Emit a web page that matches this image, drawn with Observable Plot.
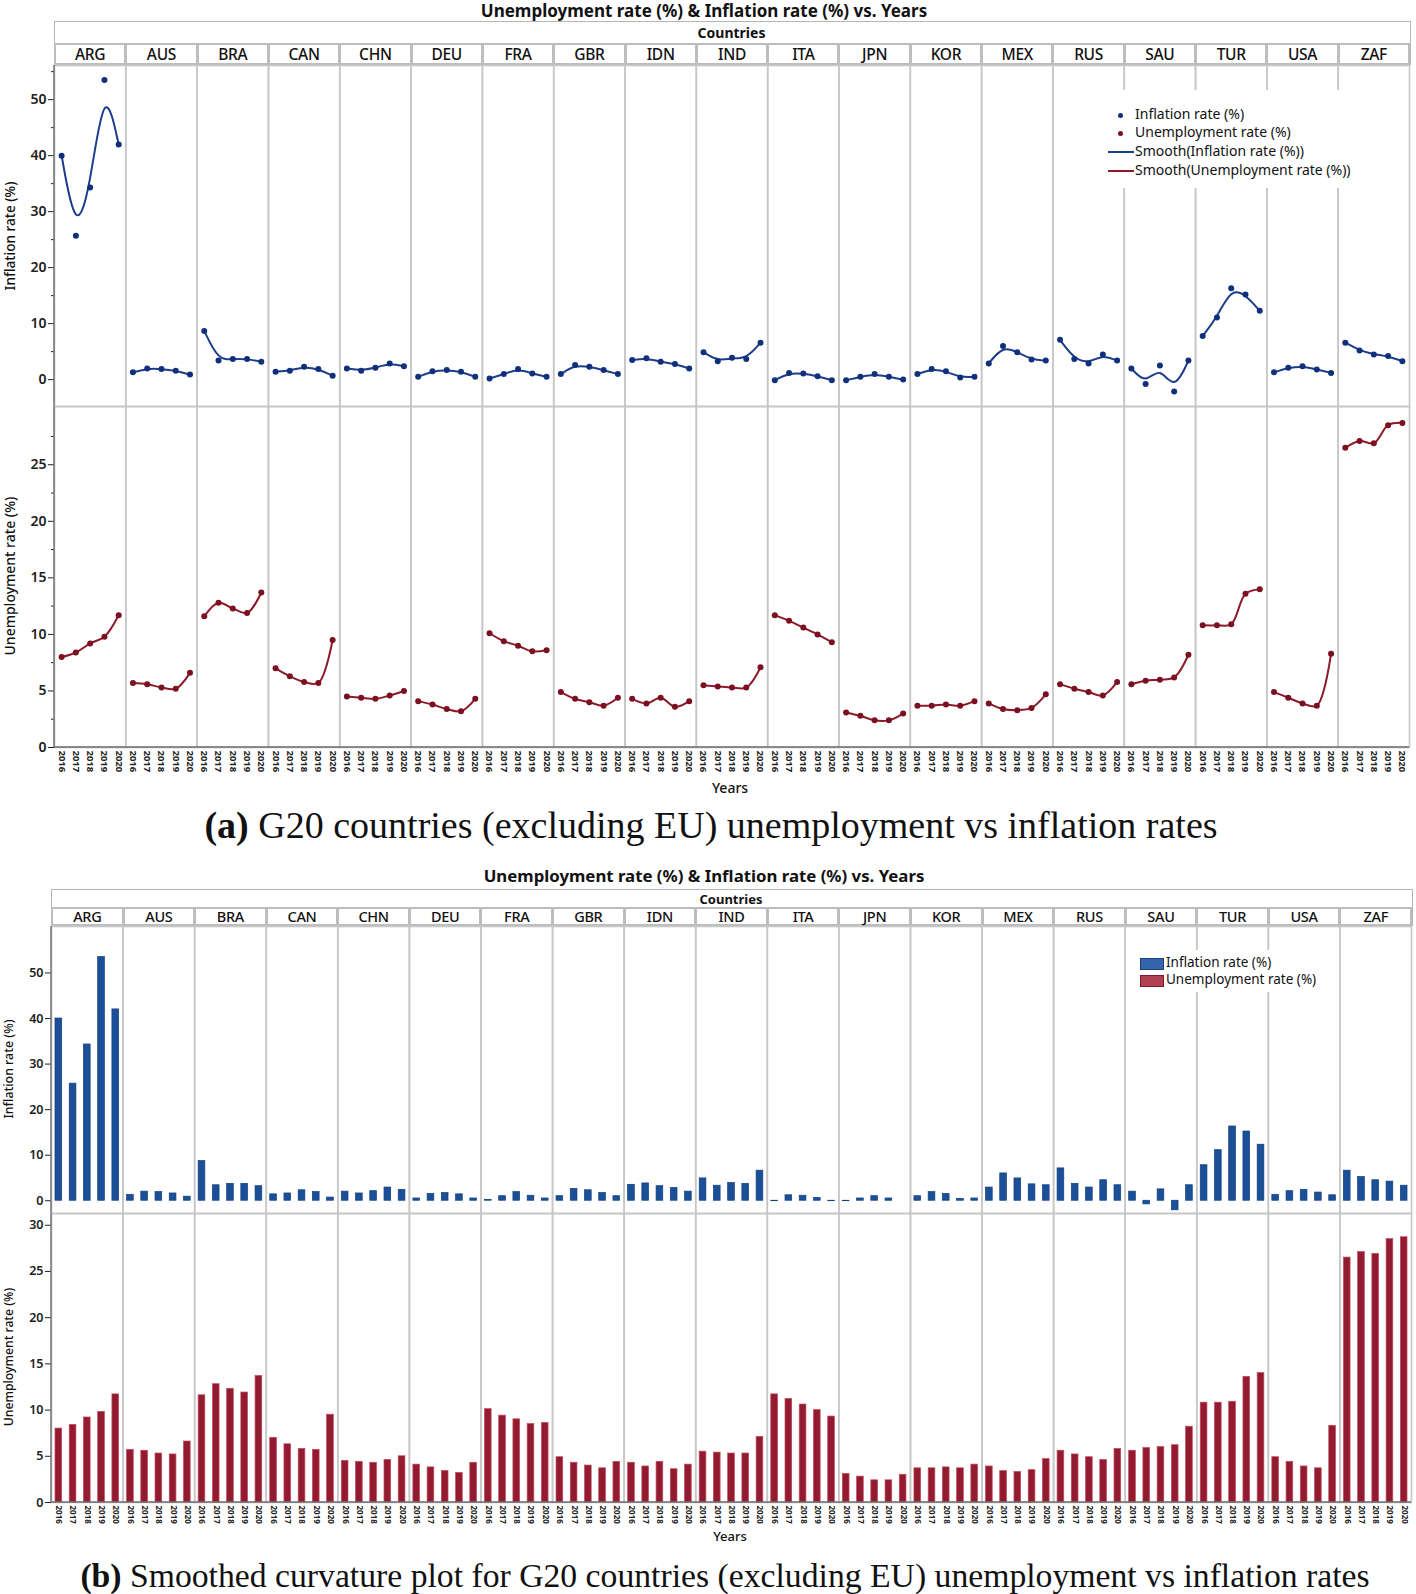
<!DOCTYPE html>
<html><head><meta charset="utf-8">
<script src="https://cdn.jsdelivr.net/npm/d3@7"></script>
<script src="https://cdn.jsdelivr.net/npm/@observablehq/plot@0.6"></script>
<style>
body{margin:0;background:#fff;}
#root{position:relative;width:1416px;height:1594px;overflow:hidden;font-family:"Noto Sans",sans-serif;color:#111;background:#fff;}
.abs{position:absolute;}
.ttl{position:absolute;font-weight:700;white-space:nowrap;transform:translateX(-50%);line-height:1.1;}
.cap{position:absolute;font-family:"Liberation Serif","Times New Roman",serif;white-space:nowrap;transform:translateX(-50%);line-height:1;color:#111;}
.ylab{position:absolute;white-space:nowrap;transform:translate(-50%,-50%) rotate(-90deg);line-height:1.1;font-weight:500;}
.hdr{position:absolute;box-sizing:border-box;border:1.5px solid #b5b5b5;background:#fff;}
.cell{position:absolute;box-sizing:border-box;border:2px solid #bdbdbd;background:#fff;text-align:center;letter-spacing:-0.3px;}
.leg{position:absolute;background:#fff;}
.legrow{position:absolute;white-space:nowrap;line-height:1;}
</style></head><body><div id="root"></div><script>
// ---------- data ----------
const countries = ["ARG","AUS","BRA","CAN","CHN","DEU","FRA","GBR","IDN","IND","ITA","JPN","KOR","MEX","RUS","SAU","TUR","USA","ZAF"];
const years = ["2016","2017","2018","2019","2020"];
// inflation rate (%) per country (same order as countries), 2016..2020
const inflationRate = [
  [40.0, 25.7, 34.3, 53.5, 42.0], // ARG
  [1.3, 2.0, 1.9, 1.6, 0.9],      // AUS
  [8.7, 3.4, 3.7, 3.7, 3.2],      // BRA
  [1.4, 1.6, 2.3, 1.9, 0.7],      // CAN
  [2.0, 1.6, 2.1, 2.9, 2.4],      // CHN
  [0.5, 1.5, 1.7, 1.4, 0.5],      // DEU
  [0.2, 1.0, 1.9, 1.1, 0.5],      // FRA
  [1.0, 2.6, 2.3, 1.7, 1.0],      // GBR
  [3.5, 3.8, 3.2, 2.8, 2.0],      // IDN
  [4.9, 3.3, 3.9, 3.7, 6.6],      // IND
  [-0.1, 1.2, 1.1, 0.6, -0.1],    // ITA
  [-0.1, 0.5, 1.0, 0.5, 0.0],     // JPN
  [1.0, 1.9, 1.5, 0.4, 0.5],      // KOR
  [2.9, 6.0, 4.9, 3.6, 3.4],      // MEX
  [7.1, 3.7, 2.9, 4.5, 3.4],      // RUS
  [2.0, -0.8, 2.5, -2.1, 3.4],    // SAU
  [7.8, 11.1, 16.3, 15.2, 12.3],  // TUR
  [1.3, 2.1, 2.4, 1.8, 1.2],      // USA
  [6.6, 5.2, 4.5, 4.2, 3.3]       // ZAF
];
// unemployment rate (%) per country, 2016..2020
const unemploymentRate = [
  [8.0, 8.4, 9.2, 9.8, 11.7],     // ARG
  [5.7, 5.6, 5.3, 5.2, 6.6],      // AUS
  [11.6, 12.8, 12.3, 11.9, 13.7], // BRA
  [7.0, 6.3, 5.8, 5.7, 9.5],      // CAN
  [4.5, 4.4, 4.3, 4.6, 5.0],      // CHN
  [4.1, 3.8, 3.4, 3.2, 4.3],      // DEU
  [10.1, 9.4, 9.0, 8.5, 8.6],     // FRA
  [4.9, 4.3, 4.0, 3.7, 4.4],      // GBR
  [4.3, 3.9, 4.4, 3.6, 4.1],      // IDN
  [5.5, 5.4, 5.3, 5.3, 7.1],      // IND
  [11.7, 11.2, 10.6, 10.0, 9.3],  // ITA
  [3.1, 2.8, 2.4, 2.4, 3.0],      // JPN
  [3.7, 3.7, 3.8, 3.7, 4.1],      // KOR
  [3.9, 3.4, 3.3, 3.5, 4.7],      // MEX
  [5.6, 5.2, 4.9, 4.6, 5.8],      // RUS
  [5.6, 5.9, 6.0, 6.2, 8.2],      // SAU
  [10.8, 10.8, 10.9, 13.6, 14.0], // TUR
  [4.9, 4.4, 3.9, 3.7, 8.3],      // USA
  [26.5, 27.1, 26.9, 28.5, 28.7]  // ZAF
];
const titleText = "Unemployment rate (%) & Inflation rate (%) vs. Years";
const captionA = ["(a)", " G20 countries (excluding EU) unemployment vs inflation rates"];
const captionB = ["(b)", " Smoothed curvature plot for G20 countries (excluding EU) unemployment vs inflation rates"];
const infTicks = [0, 10, 20, 30, 40, 50];
const infMinor = [5, 15, 25, 35, 45, 55];
const unTicks = [0, 5, 10, 15, 20, 25];
const unMinor = [2.5, 7.5, 12.5, 17.5, 22.5, 27.5];
const unTicksB = [0, 5, 10, 15, 20, 25, 30];

// ---------- helpers ----------
const toRows = (arr) => countries.flatMap((c, i) => years.map((y, j) => ({country: c, year: y, value: arr[i][j]})));
const infData = toRows(inflationRate);
const unData = toRows(unemploymentRate);

const root = document.getElementById("root");
const W = 1416;
const C = {infDot:"#10307c", infLine:"#1c3d8c", unDot:"#7a1020", unLine:"#8c1a2b",
           infBar:"#1b4f97", infBarS:"#123f80", unBar:"#931b31", unBarS:"#c24a5a"};

function place(el, top, left) { el.style.position = "absolute"; el.style.top = top + "px"; el.style.left = left + "px"; root.appendChild(el); return el; }
function div(cls, css, html) { const d = document.createElement("div"); d.className = cls; Object.assign(d.style, css); if (html != null) d.innerHTML = html; root.appendChild(d); return d; }

function row(o) {
  const marks = [
    Plot.frame({stroke: "#c7c7c7", strokeWidth: 1.6}),
    Plot.axisY({ticks: o.yTicks, tickSize: 6, tickPadding: 2, fontSize: o.yFont, fontWeight: 600, label: null}),
  ];
  if (o.yMinor) marks.push(Plot.axisY({ticks: o.yMinor, tickSize: 3, tickFormat: () => "", label: null}));
  if (o.kind === "line") {
    marks.push(Plot.line(o.data, {fx: "country", x: "year", y: "value", curve: o.curve, stroke: o.line, strokeWidth: 2}));
    marks.push(Plot.dot(o.data, {fx: "country", x: "year", y: "value", r: 3, fill: o.dot}));
  } else {
    marks.push(Plot.barY(o.data, {fx: "country", x: "year", y: "value", fill: o.fill, stroke: o.stroke, strokeWidth: 0.7}));
  }
  if (o.showX) marks.push(Plot.axisX({tickRotate: 90, tickSize: 0, tickPadding: 3, fontSize: o.xFont, fontWeight: 700, label: null}));
  const xScale = o.kind === "line"
    ? {type: "point", domain: years, padding: 0.5, round: false, axis: null}
    : {type: "band", domain: years, paddingInner: 0.53, paddingOuter: 0.28, round: false, axis: null};
  const svg = Plot.plot({
    width: W, height: o.height,
    marginLeft: o.ml, marginRight: o.mr, marginTop: o.mt, marginBottom: o.mb,
    style: {background: "transparent", overflow: "visible", fontFamily: "Noto Sans", color: "#222"},
    fx: {domain: countries, padding: 0, round: false, axis: null, label: null},
    x: xScale,
    y: {domain: o.yDomain, axis: null},
    marks
  });
  const s = d3.select(svg);
  const yb = o.height - o.mb;
  s.append("line").attr("x1", o.ml).attr("x2", o.ml).attr("y1", o.mt).attr("y2", yb).attr("stroke", "#6e6e6e").attr("stroke-width", 1.4);
  if (o.showX) s.append("line").attr("x1", o.ml).attr("x2", W - o.mr).attr("y1", yb).attr("y2", yb).attr("stroke", "#6e6e6e").attr("stroke-width", 1.4);
  place(svg, o.top, 0);
  return svg;
}

function header(top, left, right, h1, h2, f1, f2) {
  const w = right - left;
  div("hdr", {top: top + "px", left: left + "px", width: (w + 2) + "px", height: (h1 + h2) + "px"});
  div("ttl", {top: (top + (h1 - f1) / 2) + "px", left: (left + w / 2) + "px", fontSize: f1 + "px"}, "Countries");
  const cw = w / countries.length;
  countries.forEach((c, i) => {
    div("cell", {top: (top + h1) + "px", left: (left + i * cw) + "px", width: (cw + 1) + "px", height: h2 + "px",
      fontSize: f2 + "px", lineHeight: (h2 - 4) + "px", fontWeight: 500}, c);
  });
}

// ---------- panel (a) ----------
div("ttl", {top: "2px", left: "704px", fontSize: "17px"}, titleText);
header(21, 54, 1409, 22, 22, 14, 15.5);
row({top: 65, height: 341, mt: 0, mb: 0, ml: 54, mr: 7, yDomain: [-4.8, 56.1], yTicks: infTicks, yMinor: infMinor,
     yFont: 14, kind: "line", data: infData, curve: "basis", line: C.infLine, dot: C.infDot, showX: false});
row({top: 406, height: 373, mt: 0, mb: 32, ml: 54, mr: 7, yDomain: [0, 30.15], yTicks: unTicks, yMinor: unMinor,
     yFont: 14, kind: "line", data: unData, curve: "catmull-rom", line: C.unLine, dot: C.unDot, showX: true, xFont: 9.5});
div("ylab", {top: "236px", left: "10px", fontSize: "13.6px"}, "Inflation rate (%)");
div("ylab", {top: "576px", left: "10px", fontSize: "14px"}, "Unemployment rate (%)");
div("ttl", {top: "780px", left: "730px", fontSize: "14px", fontWeight: 500}, "Years");

// legend (a)
{
  div("leg", {top: "90px", left: "1106px", width: "256px", height: "98px"});
  const items = [
    {t: "Inflation rate (%)", k: "dot", c: C.infDot},
    {t: "Unemployment rate (%)", k: "dot", c: C.unDot},
    {t: "Smooth(Inflation rate (%))", k: "line", c: C.infLine},
    {t: "Smooth(Unemployment rate (%))", k: "line", c: C.unLine}
  ];
  const ys = [115, 133, 152, 171];
  items.forEach((it, i) => {
    const y = ys[i];
    if (it.k === "dot") div("abs", {top: (y - 2.5) + "px", left: "1118px", width: "5px", height: "5px", borderRadius: "50%", background: it.c});
    else div("abs", {top: (y - 1) + "px", left: "1108px", width: "26px", height: "2px", background: it.c});
    div("legrow", {top: (y - 8) + "px", left: "1135px", fontSize: "14px"}, it.t);
  });
}
{
  const cap = div("cap", {top: "806px", left: "711px", fontSize: "38px"});
  cap.innerHTML = "<b>" + captionA[0] + "</b>" + captionA[1];
}

// ---------- panel (b) ----------
div("ttl", {top: "867px", left: "704px", fontSize: "16.8px"}, titleText);
header(889, 51, 1411, 18, 19, 13, 14.5);
row({top: 926, height: 287, mt: 0, mb: 0, ml: 51, mr: 5, yDomain: [-2.8, 60.2], yTicks: infTicks, yMinor: null,
     yFont: 12.5, kind: "bar", data: infData, fill: C.infBar, stroke: C.infBarS, showX: false});
row({top: 1213, height: 315, mt: 0, mb: 26, ml: 51, mr: 5, yDomain: [0, 31.27], yTicks: unTicksB, yMinor: null,
     yFont: 12.5, kind: "bar", data: unData, fill: C.unBar, stroke: C.unBarS, showX: true, xFont: 8});
div("ylab", {top: "1069px", left: "9px", fontSize: "12.4px"}, "Inflation rate (%)");
div("ylab", {top: "1357px", left: "9px", fontSize: "12.2px"}, "Unemployment rate (%)");
div("ttl", {top: "1529px", left: "730px", fontSize: "13px", fontWeight: 500}, "Years");

// legend (b)
{
  div("leg", {top: "950px", left: "1136px", width: "200px", height: "42px"});
  const items = [
    {t: "Inflation rate (%)", c: "#3564ad", s: "#1d3f80"},
    {t: "Unemployment rate (%)", c: "#b04152", s: "#7e1a2a"}
  ];
  const ys = [964, 981];
  items.forEach((it, i) => {
    const y = ys[i];
    div("abs", {top: (y - 6) + "px", left: "1140px", width: "24px", height: "12px", background: it.c, border: "1px solid " + it.s, boxSizing: "border-box"});
    div("legrow", {top: (y - 8) + "px", left: "1166px", fontSize: "13.5px"}, it.t);
  });
}
{
  const cap = div("cap", {top: "1559px", left: "725px", fontSize: "33.7px"});
  cap.innerHTML = "<b>" + captionB[0] + "</b>" + captionB[1];
}
</script></body></html>
